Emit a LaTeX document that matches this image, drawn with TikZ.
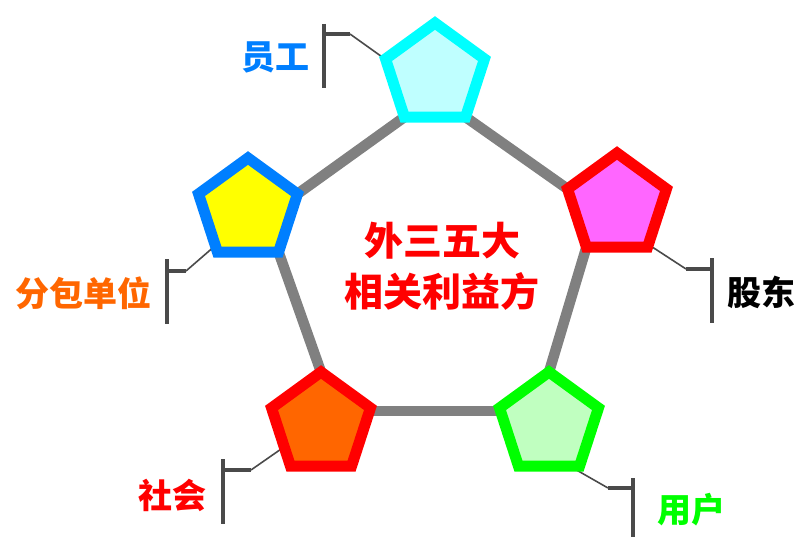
\documentclass[tikz,border=0pt]{standalone}
\usepackage{fontspec}
\newfontfamily\cjk{Noto Sans CJK SC}
\usetikzlibrary{shapes.geometric,backgrounds}
\definecolor{cyanS}{HTML}{00FFFF}
\definecolor{cyanF}{HTML}{BFFFFF}
\definecolor{blueS}{HTML}{007FFF}
\definecolor{yellowF}{HTML}{FFFF00}
\definecolor{redS}{HTML}{FF0000}
\definecolor{magF}{HTML}{FF66FF}
\definecolor{orangeF}{HTML}{FF6600}
\definecolor{greenS}{HTML}{00FF00}
\definecolor{greenF}{HTML}{C0FFC0}
\definecolor{linkgray}{HTML}{808080}
\definecolor{brkgray}{HTML}{4A4A4A}
\begin{document}
\begin{tikzpicture}[x=1pt,y=-1pt,
  penta/.style={regular polygon, regular polygon sides=5, minimum size=104pt,
    inner sep=0pt, outer sep=0pt, line width=11pt, line join=miter, draw},
  link/.style={line width=10.5pt, draw=linkgray},
  brk/.style={line width=3.5pt, draw=brkgray},
  lead/.style={line width=1.6pt, draw=brkgray},
  lbl/.style={font=\cjk\bfseries\fontsize{34}{34}\selectfont, inner sep=0pt},
  ctr/.style={font=\cjk\bfseries\fontsize{39}{51}\selectfont, inner sep=0pt,
    align=center, text=redS}]
\useasboundingbox (0,0) rectangle (797,537);
% pentagons
\node[penta, draw=cyanS, fill=cyanF] (pTop) at (435,75) {};
\node[penta, draw=redS, fill=magF] (pRight) at (617,205) {};
\node[penta, draw=greenS, fill=greenF] (pBR) at (549,424) {};
\node[penta, draw=redS, fill=orangeF] (pBL) at (321,424) {};
\node[penta, draw=blueS, fill=yellowF] (pLeft) at (248,210) {};
% centre text
\node[ctr] (title) at (442,266) {外三五大\\相关利益方};
% labels
\node[lbl, text=blueS] (lTop) at (275,57) {员工};
\node[lbl, text=orangeF] (lLeft) at (83,293) {分包单位};
\node[lbl, text=black] (lRight) at (761,292) {股东};
\node[lbl, text=redS] (lBL) at (172,495) {社会};
\node[lbl, text=greenS] (lBR) at (691,510) {用户};
% bracket coordinates
\coordinate (e1) at (385,59);   \coordinate (t1) at (350,34);
\coordinate (a1) at (324,24);   \coordinate (b1) at (324,88);
\coordinate (e2) at (216,245);  \coordinate (t2) at (186,271);
\coordinate (a2) at (167,259);  \coordinate (b2) at (167,324);
\coordinate (e3) at (653,247.5);\coordinate (t3) at (686,269);
\coordinate (a3) at (712,258);  \coordinate (b3) at (712,323);
\coordinate (e4) at (284,447);  \coordinate (t4) at (251,470);
\coordinate (a4) at (223,459);  \coordinate (b4) at (223,524);
\coordinate (e5) at (573,468);  \coordinate (t5) at (608,488);
\coordinate (a5) at (633,478);  \coordinate (b5) at (633,540);
\begin{scope}[on background layer]
  \draw[link] (pTop.corner 3) -- (pLeft.corner 5);
  \draw[link] (pLeft.corner 4) -- (pBL.corner 1);
  \draw[link] ([yshift=-3pt]pBL.corner 5) -- ([yshift=-3pt]pBR.corner 2);
  \draw[link] (pBR.corner 1) -- (pRight.corner 3);
  \draw[link] (pRight.corner 2) -- (pTop.corner 4);
  \foreach \i in {1,...,5}{
    \draw[lead] (e\i) -- (t\i);
    \draw[brk] (t\i) -- (t\i -| a\i);
    \draw[brk] (a\i) -- (b\i);
  }
\end{scope}
\end{tikzpicture}
\end{document}
